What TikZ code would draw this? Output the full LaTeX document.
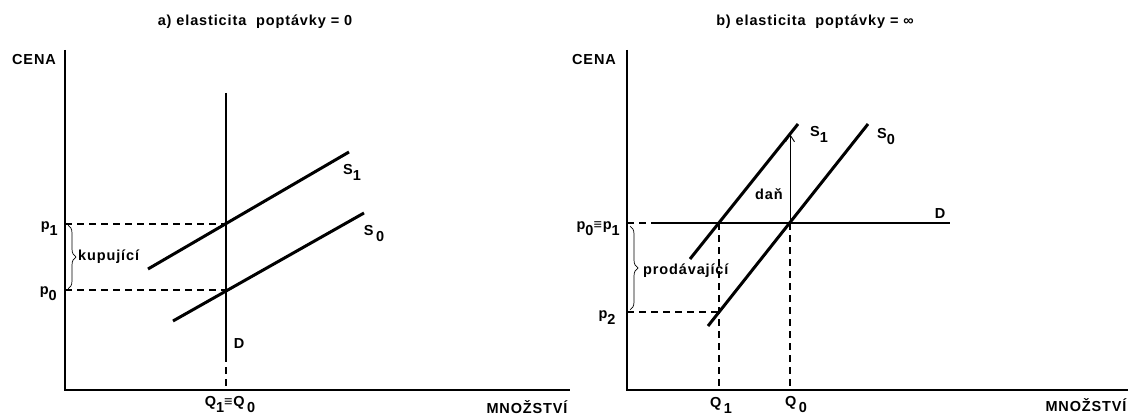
\documentclass[tikz,border=0pt]{standalone}
\usepackage{fontspec}
\setmainfont{Liberation Sans}[LetterSpace=6]
\usetikzlibrary{arrows.meta,positioning,decorations.pathreplacing}
\tikzset{
  axis/.style={draw=black,line width=2.4pt},
  curve/.style={draw=black,line width=3pt},
  dem/.style={draw=black,line width=2.4pt},
  guide/.style={draw=black,line width=1.9pt,dash pattern=on 7pt off 5pt},
  lbl/.style={font=\fontsize{14.5}{16}\selectfont\bfseries,inner sep=0pt,text=black},
  brc/.style={decorate,decoration={brace,amplitude=8pt},line width=.7pt},
  tax/.style={-{Straight Barb[length=7pt,width=9pt]},line width=.9pt},
}
\newcommand{\lowr}[1]{\raisebox{-6pt}{#1}}
\begin{document}
\begin{tikzpicture}[x=1pt,y=-1pt]
  \useasboundingbox (0,0) rectangle (1130,417);
  % a) zero elasticity of demand
  \coordinate (aO) at (65,390);
  \coordinate (aY) at (65,50);
  \coordinate (aX) at (570,390);
  \draw[axis] (aY) -- (aO) -- (aX);
  \node[lbl] (ta) at (255,22) {a) elasticita\ \ poptávky = 0};
  \node[lbl] (cenaA) at (34,60) {CENA};
  \node[lbl] (mnA) at (527,407) {MNOŽSTVÍ};
  \coordinate (aDt) at (226,93);
  \coordinate (aDb) at (226,355);
  \coordinate (aQ) at (226,390);
  \draw[dem] (aDt) -- (aDb);
  \draw[guide] (aDb) -- (aQ);
  \coordinate (aS1a) at (148,269);
  \coordinate (aS1b) at (349,152);
  \coordinate (aS0a) at (173,321);
  \coordinate (aS0b) at (364,213);
  \draw[curve] (aS1a) -- (aS1b);
  \draw[curve] (aS0a) -- (aS0b);
  \coordinate (aP1) at (65,224);
  \coordinate (aE1) at (226,224);
  \coordinate (aP0) at (65,290);
  \coordinate (aE0) at (226,290);
  \draw[guide] (aP1) -- (aE1);
  \draw[guide] (aP0) -- (aE0);
  \coordinate (aB1) at (68,225);
  \coordinate (aB0) at (68,289);
  \draw[brc] (aB1) -- (aB0);
  \node[lbl,anchor=west] (kup) at (78,257) {kupující};
  \node[lbl,anchor=east] (lp1) at (58,229) {p\lowr{1}};
  \node[lbl,anchor=east] (lp0) at (57,294) {p\lowr{0}};
  \node[lbl] (lDa) at (239,344) {D};
  \node[lbl] (lQa) at (230,405) {Q\lowr{1}≡Q\,\lowr{0}};
  \node[lbl] (lS1a) at (352,172) {S\lowr{1}};
  \node[lbl] (lS0a) at (374,234) {S\,\lowr{0}};
  % b) infinite elasticity of demand
  \coordinate (bO) at (627,390);
  \coordinate (bY) at (627,50);
  \coordinate (bX) at (1128,390);
  \draw[axis] (bY) -- (bO) -- (bX);
  \node[lbl] (tb) at (815,22) {b) elasticita\ \ poptávky = ∞};
  \node[lbl] (cenaB) at (594,60) {CENA};
  \node[lbl] (mnB) at (1086,405) {MNOŽSTVÍ};
  \coordinate (bP1) at (627,223);
  \coordinate (bDa) at (657,223);
  \coordinate (bDb) at (950,223);
  \draw[guide] (bP1) -- (bDa);
  \draw[dem] (bDa) -- (bDb);
  \coordinate (bS1a) at (690,259);
  \coordinate (bS1b) at (798,124);
  \coordinate (bS0a) at (708,326);
  \coordinate (bS0b) at (868,124);
  \draw[curve] (bS1a) -- (bS1b);
  \draw[curve] (bS0a) -- (bS0b);
  \coordinate (bE1) at (719,223);
  \coordinate (bE0) at (790,223);
  \coordinate (bE2) at (719,312);
  \coordinate (bP2) at (627,312);
  \coordinate (bQ1) at (719,390);
  \coordinate (bQ0) at (790,390);
  \coordinate (bT) at (790,134);
  \draw[guide] (bP2) -- (bE2);
  \draw[guide] (bE1) -- (bQ1);
  \draw[guide] (bE0) -- (bQ0);
  \draw[tax] (bE0) -- (bT);
  \node[lbl] (ldan) at (769,194) {daň};
  \coordinate (bB1) at (630,226);
  \coordinate (bB2) at (630,310);
  \draw[brc] (bB1) -- (bB2);
  \node[lbl,anchor=west] (prod) at (643,271) {prodávající};
  \node[lbl] (lDb) at (940,214) {D};
  \node[lbl,anchor=east] (lp01) at (620,229) {p\lowr{0}≡p\lowr{1}};
  \node[lbl] (lp2) at (607,318) {p\lowr{2}};
  \node[lbl] (lQ1) at (721,405) {Q\,\lowr{1}};
  \node[lbl] (lQ0) at (796,405) {Q\,\lowr{0}};
  \node[lbl] (lS1b) at (819,134) {S\lowr{1}};
  \node[lbl] (lS0b) at (886,137) {S\lowr{0}};
\end{tikzpicture}
\end{document}
